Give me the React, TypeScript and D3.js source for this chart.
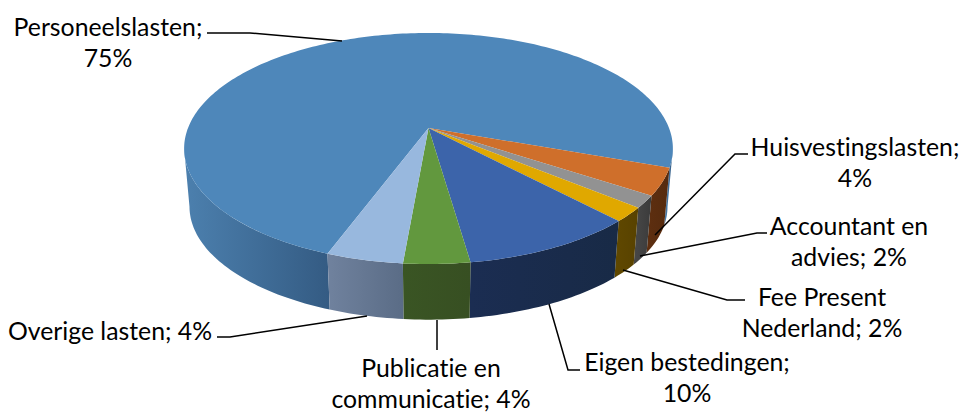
import { useEffect, useRef } from 'react';
import * as d3 from 'd3';

const categories = ['Personeelslasten', 'Huisvestingslasten', 'Accountant en advies', 'Fee Present Nederland', 'Eigen bestedingen', 'Publicatie en communicatie', 'Overige lasten'];
const shares = [74.75, 3.8, 1.7, 2.0, 9.8, 3.7, 4.3];
const topColors = ['#4e87ba', '#cf6f2b', '#929292', '#e0a800', '#3c64aa', '#62983e', '#98b8de'];
const sideLeft = ['#4c80ae', '#5e2f10', '#484848', '#604800', '#1b2d52', '#3a5524', '#70829e'];
const sideRight = ['#345b83', '#552a0e', '#3b3b3b', '#584200', '#182a46', '#374f22', '#5a6c86'];

// label text per line, centre x and first baseline
const labels = [
  { lines: ['Personeelslasten;', '75%'], x: 108, y: 36 },
  { lines: ['Huisvestingslasten;', '4%'], x: 855, y: 156 },
  { lines: ['Accountant en', 'advies; 2%'], x: 849, y: 235 },
  { lines: ['Fee Present', 'Nederland; 2%'], x: 822, y: 306 },
  { lines: ['Eigen bestedingen;', '10%'], x: 687, y: 371 },
  { lines: ['Publicatie en', 'communicatie; 4%'], x: 431, y: 377 },
  { lines: ['Overige lasten; 4%'], x: 110, y: 340 },
];
const leaders = [
  [[207, 33], [250, 33], [342, 41]],
  [[748, 154], [735, 154], [655, 235]],
  [[767, 233], [757, 233], [640, 256]],
  [[745, 300], [727, 300], [623, 270]],
  [[580, 370], [568, 370], [549, 304]],
  [[437, 350], [437, 320]],
  [[217, 337], [230, 337], [367, 316]],
];

// tilted disc with perspective: the pie centre sits above the centre of the ellipse
const cx = 428.5;
const cy = 128;
const rx = 240.5;
const ry = 111.9;
const persp = 0.1775;
const depth = 58.6;
const bottomScale = 0.978;

function project(a: number, bottom = false): [number, number] {
  const w = 1 + persp * Math.cos(a);
  const s = bottom ? bottomScale : 1;
  return [cx + (s * rx * Math.sin(a)) / w, cy + (bottom ? depth : 0) - (s * ry * Math.cos(a)) / w];
}

function sweep(a0: number, a1: number) {
  const n = Math.max(2, Math.ceil((a1 - a0) / 0.02));
  return d3.range(n + 1).map(i => a0 + ((a1 - a0) * i) / n);
}

export default function App() {
  const ref = useRef<SVGSVGElement>(null);

  useEffect(() => {
    const svg = d3.select(ref.current);
    svg.selectAll('*').remove();

    const start = (200.5 * Math.PI) / 180;
    const arcs = d3.pie<number>().sort(null).startAngle(start).endAngle(start + 2 * Math.PI)(shares);
    const line = d3.line();
    const defs = svg.append('defs');

    // side walls, only the part that faces the viewer (between the two tangent angles)
    const tangent = Math.acos(-persp);
    const visible = [[tangent, 2 * Math.PI - tangent], [2 * Math.PI + tangent, 4 * Math.PI - tangent]];
    const sides = svg.append('g');
    arcs.forEach((d, i) => {
      visible.forEach(([lo, hi], k) => {
        const a0 = Math.max(d.startAngle, lo);
        const a1 = Math.min(d.endAngle, hi);
        if (a1 <= a0) return;
        const angles = sweep(a0, a1);
        const top = angles.map(a => project(a));
        const bottom = angles.map(a => project(a, true)).reverse();
        const pts = [...top, ...bottom];
        const [x0, x1] = d3.extent(pts, p => p[0]) as [number, number];
        const id = `side-${i}-${k}`;
        const grad = defs.append('linearGradient').attr('id', id)
          .attr('gradientUnits', 'userSpaceOnUse')
          .attr('x1', x0).attr('x2', x1).attr('y1', 0).attr('y2', 0);
        grad.append('stop').attr('offset', 0).attr('stop-color', sideLeft[i]);
        grad.append('stop').attr('offset', 1).attr('stop-color', sideRight[i]);
        sides.append('path')
          .attr('d', line(pts) + 'Z')
          .attr('fill', `url(#${id})`);
      });
    });

    // top face
    svg.append('g').selectAll('path')
      .data(arcs)
      .enter().append('path')
      .attr('d', d => line([[cx, cy], ...sweep(d.startAngle, d.endAngle).map(a => project(a))]) + 'Z')
      .attr('fill', (d, i) => topColors[i])
      .attr('data-name', (d, i) => categories[i]);

    // leader lines
    svg.append('g').selectAll('path')
      .data(leaders)
      .enter().append('path')
      .attr('d', d => line(d as [number, number][]))
      .attr('fill', 'none')
      .attr('stroke', '#000')
      .attr('stroke-width', 1.5);

    // labels
    const text = svg.append('g')
      .attr('font-family', 'Lato, "Open Sans", sans-serif')
      .attr('font-size', 24.8)
      .attr('fill', '#000')
      .attr('text-anchor', 'middle')
      .style('font-variant-ligatures', 'none')
      .selectAll('text')
      .data(labels)
      .enter().append('text');
    text.selectAll('tspan')
      .data(d => d.lines.map((t, i) => ({ t, x: d.x, y: d.y + i * 31 })))
      .enter().append('tspan')
      .attr('x', d => d.x)
      .attr('y', d => d.y)
      .text(d => d.t);
  }, []);

  return <svg ref={ref} width={962} height={412} style={{ position: 'absolute', left: 0, top: 0, background: '#fff' }} />;
}
